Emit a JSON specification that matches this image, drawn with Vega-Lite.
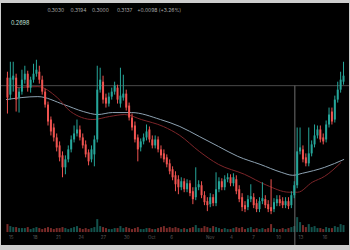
{
"$schema":"https://vega.github.io/schema/vega-lite/v6.json",
"autosize":{"type":"fit","contains":"padding"},
"width":350,"height":250,
"background":"#cdcdcd",
"padding":{"top":3,"bottom":4,"left":0,"right":0},
"view":{"fill":"#000000","stroke":null},
"datasets":{
"k":[
{"t":0,"o":0.322,"c":0.302,"h":0.328,"l":0.286,"d":"d","v":8},
{"t":1,"o":0.305,"c":0.322,"h":0.338,"l":0.300,"d":"u","v":6},
{"t":2,"o":0.320,"c":0.324,"h":0.338,"l":0.308,"d":"u","v":5},
{"t":3,"o":0.322,"c":0.300,"h":0.326,"l":0.288,"d":"d","v":5},
{"t":4,"o":0.302,"c":0.308,"h":0.312,"l":0.287,"d":"u","v":4},
{"t":5,"o":0.308,"c":0.320,"h":0.330,"l":0.305,"d":"u","v":4},
{"t":6,"o":0.320,"c":0.326,"h":0.334,"l":0.316,"d":"u","v":4},
{"t":7,"o":0.326,"c":0.312,"h":0.329,"l":0.308,"d":"d","v":5},
{"t":8,"o":0.312,"c":0.320,"h":0.323,"l":0.307,"d":"u","v":3},
{"t":9,"o":0.320,"c":0.326,"h":0.336,"l":0.317,"d":"u","v":4},
{"t":10,"o":0.326,"c":0.330,"h":0.340,"l":0.323,"d":"u","v":5},
{"t":11,"o":0.328,"c":0.320,"h":0.334,"l":0.316,"d":"d","v":4},
{"t":12,"o":0.320,"c":0.308,"h":0.324,"l":0.305,"d":"d","v":3},
{"t":13,"o":0.308,"c":0.295,"h":0.311,"l":0.292,"d":"d","v":4},
{"t":14,"o":0.295,"c":0.278,"h":0.298,"l":0.274,"d":"d","v":5},
{"t":15,"o":0.280,"c":0.268,"h":0.283,"l":0.264,"d":"d","v":4},
{"t":16,"o":0.272,"c":0.262,"h":0.276,"l":0.258,"d":"d","v":3},
{"t":17,"o":0.262,"c":0.252,"h":0.266,"l":0.248,"d":"d","v":4},
{"t":18,"o":0.254,"c":0.242,"h":0.258,"l":0.238,"d":"d","v":4},
{"t":19,"o":0.244,"c":0.232,"h":0.248,"l":0.222,"d":"d","v":5},
{"t":20,"o":0.232,"c":0.240,"h":0.244,"l":0.225,"d":"u","v":4},
{"t":21,"o":0.240,"c":0.250,"h":0.254,"l":0.237,"d":"u","v":3},
{"t":22,"o":0.250,"c":0.260,"h":0.264,"l":0.247,"d":"u","v":4},
{"t":23,"o":0.260,"c":0.266,"h":0.274,"l":0.257,"d":"u","v":5},
{"t":24,"o":0.266,"c":0.270,"h":0.280,"l":0.263,"d":"u","v":6},
{"t":25,"o":0.270,"c":0.262,"h":0.274,"l":0.259,"d":"d","v":4},
{"t":26,"o":0.262,"c":0.254,"h":0.266,"l":0.251,"d":"d","v":3},
{"t":27,"o":0.255,"c":0.245,"h":0.259,"l":0.242,"d":"d","v":4},
{"t":28,"o":0.247,"c":0.238,"h":0.250,"l":0.234,"d":"d","v":3},
{"t":29,"o":0.240,"c":0.250,"h":0.254,"l":0.237,"d":"u","v":4},
{"t":30,"o":0.245,"c":0.260,"h":0.264,"l":0.233,"d":"u","v":5},
{"t":31,"o":0.260,"c":0.310,"h":0.334,"l":0.257,"d":"u","v":13},
{"t":32,"o":0.310,"c":0.320,"h":0.332,"l":0.307,"d":"u","v":6},
{"t":33,"o":0.318,"c":0.300,"h":0.324,"l":0.296,"d":"d","v":5},
{"t":34,"o":0.302,"c":0.296,"h":0.306,"l":0.292,"d":"d","v":4},
{"t":35,"o":0.296,"c":0.303,"h":0.307,"l":0.293,"d":"u","v":3},
{"t":36,"o":0.303,"c":0.308,"h":0.312,"l":0.300,"d":"u","v":3},
{"t":37,"o":0.308,"c":0.314,"h":0.318,"l":0.305,"d":"u","v":4},
{"t":38,"o":0.312,"c":0.300,"h":0.315,"l":0.296,"d":"d","v":4},
{"t":39,"o":0.296,"c":0.304,"h":0.332,"l":0.292,"d":"u","v":6},
{"t":40,"o":0.302,"c":0.306,"h":0.325,"l":0.299,"d":"u","v":4},
{"t":41,"o":0.306,"c":0.292,"h":0.310,"l":0.289,"d":"d","v":5},
{"t":42,"o":0.294,"c":0.282,"h":0.297,"l":0.279,"d":"d","v":4},
{"t":43,"o":0.282,"c":0.272,"h":0.286,"l":0.269,"d":"d","v":3},
{"t":44,"o":0.274,"c":0.260,"h":0.278,"l":0.257,"d":"d","v":4},
{"t":45,"o":0.262,"c":0.250,"h":0.265,"l":0.238,"d":"d","v":5},
{"t":46,"o":0.252,"c":0.258,"h":0.261,"l":0.248,"d":"u","v":3},
{"t":47,"o":0.258,"c":0.262,"h":0.266,"l":0.255,"d":"u","v":3},
{"t":48,"o":0.262,"c":0.268,"h":0.275,"l":0.259,"d":"u","v":4},
{"t":49,"o":0.270,"c":0.260,"h":0.273,"l":0.257,"d":"d","v":4},
{"t":50,"o":0.260,"c":0.254,"h":0.264,"l":0.251,"d":"d","v":3},
{"t":51,"o":0.254,"c":0.260,"h":0.264,"l":0.251,"d":"u","v":3},
{"t":52,"o":0.260,"c":0.250,"h":0.263,"l":0.247,"d":"d","v":4},
{"t":53,"o":0.250,"c":0.244,"h":0.254,"l":0.241,"d":"d","v":5},
{"t":54,"o":0.246,"c":0.240,"h":0.250,"l":0.237,"d":"d","v":6},
{"t":55,"o":0.242,"c":0.235,"h":0.245,"l":0.232,"d":"d","v":4},
{"t":56,"o":0.236,"c":0.228,"h":0.240,"l":0.225,"d":"d","v":5},
{"t":57,"o":0.230,"c":0.222,"h":0.233,"l":0.219,"d":"d","v":4},
{"t":58,"o":0.224,"c":0.215,"h":0.228,"l":0.208,"d":"d","v":5},
{"t":59,"o":0.220,"c":0.212,"h":0.224,"l":0.205,"d":"d","v":4},
{"t":60,"o":0.212,"c":0.218,"h":0.222,"l":0.209,"d":"u","v":3},
{"t":61,"o":0.218,"c":0.210,"h":0.221,"l":0.207,"d":"d","v":4},
{"t":62,"o":0.210,"c":0.216,"h":0.220,"l":0.207,"d":"u","v":3},
{"t":63,"o":0.216,"c":0.206,"h":0.219,"l":0.203,"d":"d","v":4},
{"t":64,"o":0.208,"c":0.200,"h":0.212,"l":0.195,"d":"d","v":5},
{"t":65,"o":0.202,"c":0.212,"h":0.232,"l":0.199,"d":"u","v":7},
{"t":66,"o":0.212,"c":0.215,"h":0.219,"l":0.209,"d":"u","v":4},
{"t":67,"o":0.214,"c":0.204,"h":0.218,"l":0.201,"d":"d","v":4},
{"t":68,"o":0.204,"c":0.197,"h":0.208,"l":0.194,"d":"d","v":6},
{"t":69,"o":0.198,"c":0.194,"h":0.202,"l":0.188,"d":"d","v":5},
{"t":70,"o":0.195,"c":0.202,"h":0.206,"l":0.192,"d":"u","v":4},
{"t":71,"o":0.202,"c":0.196,"h":0.205,"l":0.193,"d":"d","v":6},
{"t":72,"o":0.196,"c":0.210,"h":0.227,"l":0.193,"d":"u","v":5},
{"t":73,"o":0.210,"c":0.218,"h":0.222,"l":0.207,"d":"u","v":4},
{"t":74,"o":0.218,"c":0.212,"h":0.221,"l":0.209,"d":"d","v":3},
{"t":75,"o":0.212,"c":0.220,"h":0.224,"l":0.209,"d":"u","v":4},
{"t":76,"o":0.220,"c":0.222,"h":0.226,"l":0.217,"d":"u","v":3},
{"t":77,"o":0.222,"c":0.216,"h":0.225,"l":0.213,"d":"d","v":3},
{"t":78,"o":0.216,"c":0.222,"h":0.226,"l":0.213,"d":"u","v":4},
{"t":79,"o":0.220,"c":0.208,"h":0.224,"l":0.205,"d":"d","v":5},
{"t":80,"o":0.210,"c":0.200,"h":0.214,"l":0.197,"d":"d","v":4},
{"t":81,"o":0.202,"c":0.192,"h":0.206,"l":0.188,"d":"d","v":5},
{"t":82,"o":0.194,"c":0.190,"h":0.198,"l":0.187,"d":"d","v":3},
{"t":83,"o":0.192,"c":0.200,"h":0.204,"l":0.189,"d":"u","v":4},
{"t":84,"o":0.200,"c":0.203,"h":0.215,"l":0.197,"d":"u","v":5},
{"t":85,"o":0.202,"c":0.194,"h":0.206,"l":0.191,"d":"d","v":3},
{"t":86,"o":0.196,"c":0.190,"h":0.200,"l":0.187,"d":"d","v":4},
{"t":87,"o":0.190,"c":0.198,"h":0.202,"l":0.187,"d":"u","v":3},
{"t":88,"o":0.198,"c":0.201,"h":0.217,"l":0.195,"d":"u","v":4},
{"t":89,"o":0.200,"c":0.194,"h":0.204,"l":0.191,"d":"d","v":3},
{"t":90,"o":0.195,"c":0.190,"h":0.199,"l":0.187,"d":"d","v":4},
{"t":91,"o":0.192,"c":0.188,"h":0.220,"l":0.185,"d":"d","v":8},
{"t":92,"o":0.190,"c":0.197,"h":0.201,"l":0.187,"d":"u","v":4},
{"t":93,"o":0.196,"c":0.200,"h":0.204,"l":0.193,"d":"u","v":3},
{"t":94,"o":0.200,"c":0.196,"h":0.204,"l":0.193,"d":"d","v":3},
{"t":95,"o":0.198,"c":0.194,"h":0.202,"l":0.191,"d":"d","v":4},
{"t":96,"o":0.194,"c":0.198,"h":0.202,"l":0.191,"d":"u","v":3},
{"t":97,"o":0.198,"c":0.193,"h":0.202,"l":0.190,"d":"d","v":4},
{"t":98,"o":0.194,"c":0.204,"h":0.208,"l":0.191,"d":"u","v":5},
{"t":99,"o":0.204,"c":0.214,"h":0.218,"l":0.201,"d":"u","v":6},
{"t":100,"o":0.214,"c":0.248,"h":0.272,"l":0.211,"d":"u","v":15},
{"t":101,"o":0.248,"c":0.252,"h":0.272,"l":0.245,"d":"u","v":10},
{"t":102,"o":0.250,"c":0.240,"h":0.254,"l":0.237,"d":"d","v":7},
{"t":103,"o":0.242,"c":0.236,"h":0.246,"l":0.233,"d":"d","v":5},
{"t":104,"o":0.236,"c":0.246,"h":0.272,"l":0.233,"d":"u","v":8},
{"t":105,"o":0.246,"c":0.255,"h":0.259,"l":0.243,"d":"u","v":5},
{"t":106,"o":0.255,"c":0.264,"h":0.275,"l":0.252,"d":"u","v":6},
{"t":107,"o":0.264,"c":0.270,"h":0.274,"l":0.261,"d":"u","v":4},
{"t":108,"o":0.270,"c":0.260,"h":0.274,"l":0.257,"d":"d","v":4},
{"t":109,"o":0.262,"c":0.258,"h":0.266,"l":0.255,"d":"d","v":3},
{"t":110,"o":0.260,"c":0.275,"h":0.279,"l":0.257,"d":"u","v":5},
{"t":111,"o":0.275,"c":0.285,"h":0.292,"l":0.272,"d":"u","v":4},
{"t":112,"o":0.288,"c":0.278,"h":0.292,"l":0.275,"d":"d","v":4},
{"t":113,"o":0.280,"c":0.300,"h":0.304,"l":0.277,"d":"u","v":6},
{"t":114,"o":0.300,"c":0.310,"h":0.318,"l":0.297,"d":"u","v":5},
{"t":115,"o":0.310,"c":0.320,"h":0.328,"l":0.307,"d":"u","v":8},
{"t":116,"o":0.318,"c":0.324,"h":0.338,"l":0.315,"d":"u","v":7}
],
"gma":[
{"t":-0.5,"p":0.300},{"t":10.5,"p":0.303},{"t":19.5,"p":0.295},{"t":26.2,"p":0.288},{"t":31.2,"p":0.285},{"t":36.2,"p":0.287},{"t":42.8,"p":0.287},{"t":52.8,"p":0.280},{"t":59.5,"p":0.273},{"t":66.2,"p":0.263},{"t":72.8,"p":0.253},{"t":79.5,"p":0.243},{"t":87.2,"p":0.235},{"t":94.5,"p":0.227},{"t":98.5,"p":0.224},{"t":101.8,"p":0.226},{"t":109.5,"p":0.232},{"t":116.2,"p":0.240}
],
"rma":[
{"t":2.8,"p":0.312},{"t":10.5,"p":0.313},{"t":17.2,"p":0.302},{"t":21.8,"p":0.288},{"t":29.5,"p":0.280},{"t":35.2,"p":0.283},{"t":40.5,"p":0.285},{"t":46.2,"p":0.280},{"t":53.8,"p":0.273},{"t":59.5,"p":0.264},{"t":66.2,"p":0.248},{"t":72.8,"p":0.235},{"t":81.8,"p":0.225},{"t":89.5,"p":0.214},{"t":97.2,"p":0.207},{"t":100.2,"p":0.207},{"t":105.2,"p":0.217},{"t":109.5,"p":0.223},{"t":115.2,"p":0.237}
],
"lvl":[{"p":0.314}],
"cross":[{"t":99.2,"p":0.314,"p2":0.154}],
"hdr":[
{"t":13.8,"p":0.390,"s":"0.3030"},
{"t":21.8,"p":0.390,"s":"0.3194"},
{"t":29.2,"p":0.390,"s":"0.3000"},
{"t":37.8,"p":0.390,"s":"0.3137"},
{"t":44.8,"p":0.390,"s":"+0.0098 (+3.26%)"}
],
"last":[{"t":1.2,"p":0.377,"s":"0.2698"}],
"xl":[
{"t":0.5,"v":-6,"s":"15"},{"t":8.8,"v":-6,"s":"18"},{"t":16.8,"v":-6,"s":"21"},{"t":24.5,"v":-6,"s":"24"},{"t":32.2,"v":-6,"s":"27"},{"t":40.2,"v":-6,"s":"30"},{"t":48.5,"v":-6,"s":"Oct"},{"t":56.2,"v":-6,"s":"6"},{"t":68.5,"v":-6,"s":"Nov"},{"t":76.8,"v":-6,"s":"4"},{"t":84.5,"v":-6,"s":"7"},{"t":92.8,"v":-6,"s":"10"},{"t":100.5,"v":-6,"s":"13"},{"t":108.8,"v":-6,"s":"16"}
]
},
"layer":[
{"layer":[
{"data":{"name":"k"},"mark":{"type":"bar","size":2,"orient":"vertical","opacity":0.5},
"encoding":{
"x":{"field":"t","type":"quantitative","scale":{"domain":[-0.5,116.1667],"nice":false,"zero":false},"axis":null},
"y":{"field":"v","type":"quantitative","scale":{"domain":[-13,230],"nice":false,"zero":false},"axis":null},
"y2":{"datum":0},
"color":{"field":"d","type":"nominal","scale":{"domain":["u","d"],"range":["#26a69a","#ef5350"]},"legend":null}}},
{"data":{"name":"xl"},"mark":{"type":"text","fontSize":4.5,"font":"Inter","color":"#5a5a5a","align":"left","baseline":"middle"},
"encoding":{
"x":{"field":"t","type":"quantitative","scale":{"domain":[-0.5,116.1667],"nice":false,"zero":false},"axis":null},
"y":{"field":"v","type":"quantitative","scale":{"domain":[-13,230],"nice":false,"zero":false},"axis":null},
"text":{"field":"s"}}}
]},
{"layer":[
{"data":{"name":"lvl"},"mark":{"type":"rule","color":"#4a4a4a","strokeWidth":1},
"encoding":{"y":{"field":"p","type":"quantitative","scale":{"domain":[0.154,0.397],"nice":false,"zero":false},"axis":null}}},
{"data":{"name":"cross"},"mark":{"type":"rule","color":"#707070","strokeWidth":1},
"encoding":{
"x":{"field":"t","type":"quantitative","scale":{"domain":[-0.5,116.1667],"nice":false,"zero":false},"axis":null},
"y":{"field":"p","type":"quantitative","scale":{"domain":[0.154,0.397],"nice":false,"zero":false},"axis":null},
"y2":{"field":"p2"}}},
{"data":{"name":"gma"},"mark":{"type":"line","color":"#8da2b2","strokeWidth":1,"interpolate":"monotone"},
"encoding":{
"x":{"field":"t","type":"quantitative","scale":{"domain":[-0.5,116.1667],"nice":false,"zero":false},"axis":null},
"y":{"field":"p","type":"quantitative","scale":{"domain":[0.154,0.397],"nice":false,"zero":false},"axis":null}}},
{"data":{"name":"rma"},"mark":{"type":"line","color":"#7d2529","strokeWidth":1,"interpolate":"monotone"},
"encoding":{
"x":{"field":"t","type":"quantitative","scale":{"domain":[-0.5,116.1667],"nice":false,"zero":false},"axis":null},
"y":{"field":"p","type":"quantitative","scale":{"domain":[0.154,0.397],"nice":false,"zero":false},"axis":null}}},
{"data":{"name":"k"},"mark":{"type":"rule","strokeWidth":1},
"encoding":{
"x":{"field":"t","type":"quantitative","scale":{"domain":[-0.5,116.1667],"nice":false,"zero":false},"axis":null},
"y":{"field":"l","type":"quantitative","scale":{"domain":[0.154,0.397],"nice":false,"zero":false},"axis":null},
"y2":{"field":"h"},
"color":{"field":"d","type":"nominal","scale":{"domain":["u","d"],"range":["#26a69a","#ef5350"]},"legend":null}}},
{"data":{"name":"k"},"mark":{"type":"bar","size":2,"orient":"vertical"},
"encoding":{
"x":{"field":"t","type":"quantitative","scale":{"domain":[-0.5,116.1667],"nice":false,"zero":false},"axis":null},
"y":{"field":"o","type":"quantitative","scale":{"domain":[0.154,0.397],"nice":false,"zero":false},"axis":null},
"y2":{"field":"c"},
"color":{"field":"d","type":"nominal","scale":{"domain":["u","d"],"range":["#26a69a","#ef5350"]},"legend":null}}},
{"data":{"name":"hdr"},"mark":{"type":"text","fontSize":5,"font":"Inter","color":"#a8a8a8","align":"left","baseline":"middle"},
"encoding":{
"x":{"field":"t","type":"quantitative","scale":{"domain":[-0.5,116.1667],"nice":false,"zero":false},"axis":null},
"y":{"field":"p","type":"quantitative","scale":{"domain":[0.154,0.397],"nice":false,"zero":false},"axis":null},
"text":{"field":"s"}}},
{"data":{"name":"last"},"mark":{"type":"text","fontSize":5.5,"font":"Inter","color":"#c4e4dc","align":"left","baseline":"middle"},
"encoding":{
"x":{"field":"t","type":"quantitative","scale":{"domain":[-0.5,116.1667],"nice":false,"zero":false},"axis":null},
"y":{"field":"p","type":"quantitative","scale":{"domain":[0.154,0.397],"nice":false,"zero":false},"axis":null},
"text":{"field":"s"}}}
]}
],
"resolve":{"scale":{"y":"independent"}}
}
